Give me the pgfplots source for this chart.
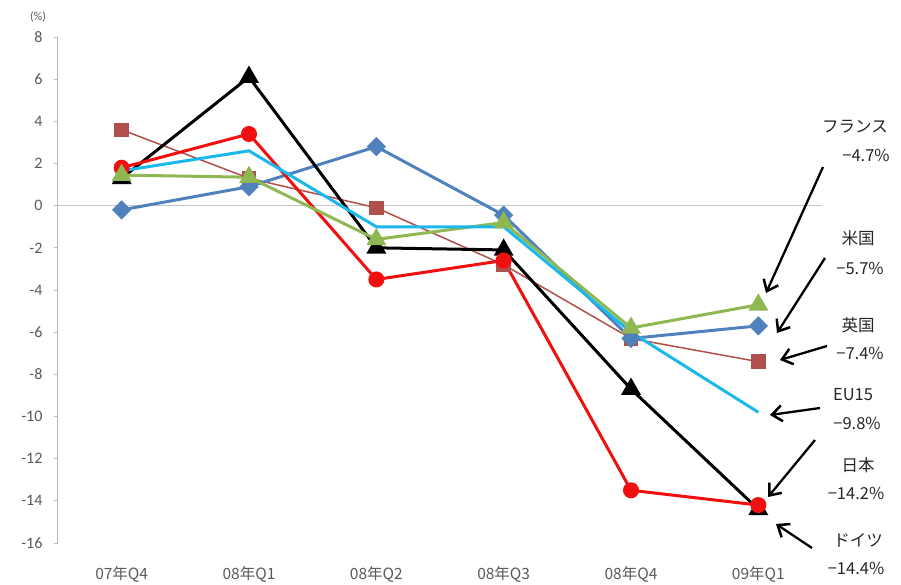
\documentclass[border=0pt]{standalone}
\usepackage{fontspec}
\setmainfont{Carlito}
\newfontfamily\cjk{Noto Sans CJK JP}
\usepackage{pgfplots}
\pgfplotsset{compat=1.18}
\usetikzlibrary{arrows.meta}
\definecolor{cUS}{HTML}{4F81BD}
\definecolor{cUK}{HTML}{B0504D}
\definecolor{cFR}{HTML}{8FB853}
\definecolor{cEU}{HTML}{1BB8EC}
\definecolor{cJP}{HTML}{F01010}
\definecolor{tickgray}{HTML}{595959}
\begin{document}
\begin{tikzpicture}[x=1pt,y=1pt]
\path[use as bounding box] (0,0) rectangle (901,584);
\begin{axis}[
  at={(58pt,41pt)}, anchor=south west,
  scale only axis, width=764pt, height=506pt,
  xmin=-0.5, xmax=5.5, ymin=-16, ymax=8,
  axis y line*=left, axis x line*=bottom,
  x axis line style={draw=none},
  y axis line style={draw=gray!55, line width=1pt, -},
  ytick={-16,-14,...,8},
  tick align=outside, major tick length=4pt,
  ytick style={draw=gray!55, line width=0.8pt},
  xtick={0,...,5},
  xticklabels={07年Q4,08年Q1,08年Q2,08年Q3,08年Q4,09年Q1},
  xtick style={draw=none},
  xticklabel style={font=\cjk\fontsize{15.5}{15.5}\selectfont, text=tickgray, yshift=-16pt},
  yticklabel style={font=\fontsize{16}{16}\selectfont, text=tickgray, xshift=-8pt},
  /pgf/number format/assume math mode=true,
  extra y ticks={0}, extra y tick labels={},
  extra y tick style={grid=major, major grid style={draw=gray!45, line width=1.5pt}},
  clip=false,
]
\addplot[color=cUK, line width=1.5pt, mark=square*, mark size=6.5pt, mark options={solid, fill=cUK}]
  coordinates {(0,3.6) (1,1.3) (2,-0.1) (3,-2.8) (4,-6.3) (5,-7.4)};
\addplot[color=cUS, line width=3pt, mark=square*, mark size=5.3pt, mark options={rotate=45, solid, fill=cUS}]
  coordinates {(0,-0.2) (1,0.9) (2,2.8) (3,-0.45) (4,-6.3) (5,-5.7)};
\addplot[color=black, line width=3pt, mark=triangle*, mark size=8.5pt, mark options={solid, fill=black}]
  coordinates {(0,1.3) (1,6.1) (2,-2.0) (3,-2.1) (4,-8.7) (5,-14.4)};
\addplot[color=cJP, line width=3pt, mark=*, mark size=6.5pt, mark options={solid, fill=cJP}]
  coordinates {(0,1.8) (1,3.4) (2,-3.5) (3,-2.6) (4,-13.5) (5,-14.2)};
\addplot[color=cFR, line width=3pt, mark=triangle*, mark size=8.5pt, mark options={solid, fill=cFR}]
  coordinates {(0,1.45) (1,1.35) (2,-1.6) (3,-0.8) (4,-5.8) (5,-4.7)};
\addplot[color=cEU, line width=3pt, mark=none]
  coordinates {(0,1.65) (1,2.6) (2,-1.0) (3,-1.0) (4,-6.0) (5,-9.8)};
\end{axis}
% (%) unit label
\node[font=\fontsize{12}{12}\selectfont, text=tickgray] at (38,567) {(\%)};
% annotation arrows
\begin{scope}[line width=2.3pt, -{Straight Barb[length=10pt,width=16pt,line width=2.5pt]}]
\draw (823,417) -- (766,291);
\draw (825,326) -- (777,251);
\draw (827,238) -- (780,224);
\draw (820,176) -- (770,169);
\draw (815,144) -- (768,87);
\draw (812,36) -- (776,60);
\end{scope}
\begin{scope}[font=\cjk\fontsize{16.5}{16.5}\selectfont, text=black!85]
\node at (855,457) {フランス};
\node at (866,429) {−4.7\%};
\node at (858,346) {米国};
\node at (860,316) {−5.7\%};
\node at (858,259) {英国};
\node at (860,231) {−7.4\%};
\node at (853,189) {EU15};
\node at (857,161) {−9.8\%};
\node at (858,119) {日本};
\node at (856,91) {−14.2\%};
\node at (858,44) {ドイツ};
\node at (856,16) {−14.4\%};
\end{scope}
\end{tikzpicture}
\end{document}
